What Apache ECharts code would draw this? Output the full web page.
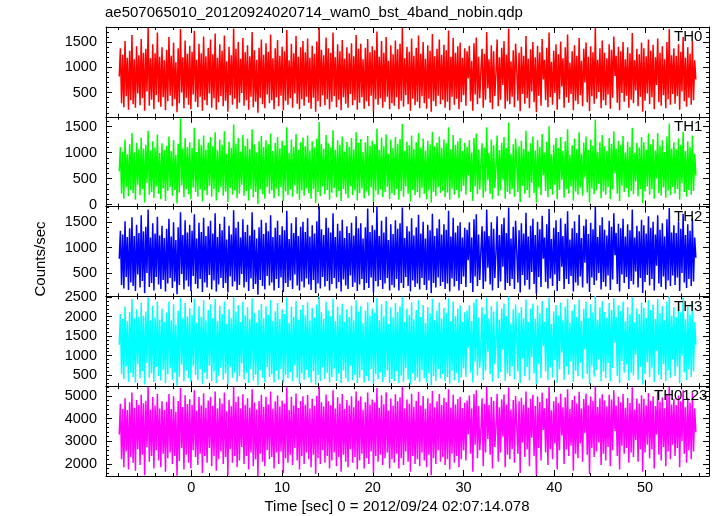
<!DOCTYPE html>
<html><head><meta charset="utf-8">
<script src="https://cdn.jsdelivr.net/npm/echarts@6/dist/echarts.min.js"></script>
<style>html,body{margin:0;padding:0;background:#fff}#c{width:717px;height:516px}</style>
</head><body><div id="c"></div>
<script>
const titleText = 'ae507065010_20120924020714_wam0_bst_4band_nobin.qdp';
const xName = 'Time [sec] 0 = 2012/09/24 02:07:14.078';
const yName = 'Counts/sec';
const bandNames = ['TH0', 'TH1', 'TH2', 'TH3', 'TH0123'];
const bandColors = ['#ff0000', '#00ff00', '#0000ff', '#00ffff', '#ff00ff'];
const tStart = -7.94, tEnd = 55.6;
const xRange = [-9.4, 57.05];
const xTicks = [0, 10, 20, 30, 40, 50];
const yRanges = [[20, 1800], [-40, 1690], [35, 1810], [215, 2520], [1465, 5430]];
const yTicks = [[500, 1000, 1500], [0, 500, 1000, 1500], [500, 1000, 1500], [500, 1000, 1500, 2000, 2500], [2000, 3000, 4000, 5000]];

const th0 = [
820,1380,290,1250,210,1520,430,1190,160,1330,350,1640,270,1160,200,1420,480,1240,250,1560,
390,1290,140,1370,520,1790,240,1180,360,1460,170,1280,450,1690,310,1210,220,1400,410,1140,
150,1350,330,1600,440,1230,230,1490,370,1100,110,1380,290,1760,500,1200,190,1530,400,1270,
260,1430,170,1310,460,1720,320,1150,210,1470,420,1280,140,1610,350,1220,250,1390,480,1550,
200,1260,390,1670,160,1190,310,1460,430,1330,230,1630,340,1120,120,1410,450,1240,260,1770,
380,1370,180,1500,300,1170,490,1580,240,1300,350,1440,160,1220,420,1700,210,1340,320,1150,
100,1390,400,1550,270,1250,190,1480,460,1310,290,1650,350,1180,170,1380,410,1540,230,1230,
440,1410,150,1320,340,1740,260,1140,390,1470,200,1280,480,1620,280,1210,170,1400,370,1520,
240,1300,420,1570,300,1190,180,1430,400,1270,120,1510,330,1790,220,1350,450,1240,250,1590,
370,1380,170,1290,320,1690,430,1200,210,1460,360,1320,150,1540,410,1170,280,1400,200,1280,
470,1480,250,1220,350,1640,160,1370,300,1470,410,1160,180,1390,330,1560,230,1300,440,1420,
130,1340,370,1710,260,1210,390,1520,200,1290,320,1600,420,1130,170,1440,290,1260,240,1530,
410,1360,170,1470,340,1780,220,1180,450,1410,270,1310,140,1570,380,1230,250,1390,320,1630,
190,1270,430,1500,290,1170,180,1440,380,1330,120,1660,330,1220,230,1370,440,1550,270,1250,
360,1450,200,1340,320,1730,150,1210,420,1580,260,1290,380,1420,170,1490,310,1190,450,1380,
240,1320,780,1430,330,1130,140,1480,460,1590,270,1210,390,940,1370,200,1270,360,1700,580,
1160,300,1440,170,1320,430,870,1550,230,1200,360,1390,650,1520,180,1250,330,1770,270,1120,
420,1340,210,1470,960,340,1290,130,1410,470,1230,280,1620,390,1170,190,1360,520,1500,310,
1200,110,1430,440,1300,240,1560,760,1150,350,1390,210,1690,410,1110,260,1330,490,1460,160,
1260,370,1510,620,1180,200,1400,410,1650,300,1090,470,1320,150,1440,340,1230,270,1580,450,
1130,230,1370,700,1490,310,1210,130,1420,430,1300,280,1780,380,1150,510,1380,190,1530,350,
1290,250,1180,460,1460,180,1350,400,1610,830,1230,300,1410,150,1320,490,1500,320,1160,440,
1400,200,1280,360,1680,290,1140,540,1370,230,1260,420,1490,120,1380,340,1220,480,1550,270,
1330,410,1450,170,1200,650,1570,310,1290,240,1420,450,1160,190,1500,370,1760,260,1240,470,
1380,280,1230,430,1460,160,1310,520,1600,330,1190,220,1400,400,1270,260,1520,350,1140,760
];
const th1 = [
640,1110,210,1020,110,1250,330,970,160,1160,280,1380,220,1000,90,1190,380,1060,180,1290,
300,1080,40,1150,420,1420,190,1040,240,1220,130,1100,350,1350,210,990,100,1180,310,1050,
70,1130,260,1310,340,1030,170,1240,280,960,20,1170,230,1660,370,1080,140,1280,300,1110,
200,1200,100,1090,330,1480,240,1010,150,1260,290,1140,60,1330,270,1060,180,1190,360,1300,
150,1120,300,1390,80,1040,230,1250,340,1150,170,1410,250,980,50,1210,320,1090,190,1540,
270,1170,120,1280,210,1020,380,1340,170,1130,260,1270,80,1070,300,1450,140,1160,240,1000,
10,1220,290,1320,200,1110,110,1240,340,1160,210,1370,270,1030,120,1190,310,1300,160,1080,
340,1230,70,1140,250,1490,180,990,290,1250,150,1110,370,1360,210,1050,90,1200,270,1290,
170,1120,310,1330,220,1040,110,1220,300,1100,30,1270,240,1590,160,1160,350,1070,200,1340,
280,1180,90,1100,230,1430,320,1050,140,1240,260,1150,70,1310,300,1020,200,1210,120,1110,
350,1280,180,1060,270,1390,80,1190,220,1260,310,1010,120,1200,250,1320,170,1130,330,1230,
50,1160,270,1460,190,1050,290,1290,140,1120,240,1350,340,980,100,1250,220,1090,180,1300,
300,1170,90,1260,260,1550,150,1030,350,1210,210,1140,60,1330,280,1070,180,1200,240,1380,
130,1100,320,1270,210,1040,100,1230,270,1160,40,1400,240,1120,160,1190,340,1310,220,1090,
260,1250,140,1180,230,1490,90,1060,310,1340,190,1150,280,1220,120,1280,250,1030,360,1190,
190,1110,560,1240,240,1000,70,1280,350,1370,200,1060,290,800,1180,130,1100,250,1490,470,
990,210,1250,100,1140,320,700,1330,170,1050,270,1190,480,1300,110,1090,240,1580,200,980,
300,1160,150,1270,780,240,1120,50,1230,360,1070,210,1420,280,1020,130,1180,420,1310,220,
1040,40,1240,330,1110,180,1360,560,1000,260,1210,140,1510,300,970,190,1150,380,1280,100,
1090,280,1300,480,1030,130,1220,300,1450,210,960,350,1140,80,1270,250,1070,190,1390,330,
980,170,1190,520,1310,230,1050,40,1250,310,1130,200,1640,270,1010,400,1200,120,1340,250,
1120,190,1030,340,1280,100,1170,290,1410,600,1080,210,1230,70,1150,360,1320,240,1000,320,
1210,140,1110,260,1480,200,990,440,1190,160,1100,300,1300,30,1200,250,1060,350,1370,190,
1160,290,1260,110,1040,500,1380,220,1130,170,1240,330,1010,130,1310,270,1560,180,1080,340,
1200,210,1070,300,1270,90,1150,410,1400,240,1030,150,1220,280,1110,190,1330,260,980,560
];
const th2 = [
780,1330,260,1260,190,1520,420,1210,160,1380,310,1600,240,1230,140,1450,470,1290,210,1640,
340,1320,100,1410,500,1750,220,1200,300,1480,150,1280,420,1610,270,1240,180,1430,360,1190,
130,1370,290,1570,400,1220,200,1500,330,1150,80,1400,260,1700,480,1250,170,1540,350,1300,
230,1450,140,1330,440,1660,280,1180,190,1490,380,1310,120,1590,310,1230,210,1420,460,1530,
170,1280,350,1680,130,1210,270,1470,400,1340,200,1610,300,1160,110,1430,430,1260,230,1740,
330,1390,160,1510,260,1200,480,1560,210,1310,320,1450,140,1240,390,1700,180,1350,280,1180,
70,1400,360,1550,240,1270,170,1490,440,1320,250,1640,310,1210,150,1390,380,1530,200,1250,
410,1420,120,1340,300,1730,220,1170,350,1480,180,1290,470,1600,250,1230,150,1410,330,1510,
210,1310,390,1580,270,1220,160,1440,360,1280,100,1520,290,1800,190,1360,420,1250,230,1590,
340,1390,150,1300,280,1680,400,1210,190,1470,320,1330,130,1550,370,1190,250,1420,180,1290,
450,1490,220,1240,310,1620,140,1380,270,1480,380,1180,160,1400,300,1770,200,1310,410,1440,
110,1350,340,1810,230,1230,360,1530,180,1300,290,1610,400,1150,150,1460,260,1270,210,1540,
380,1370,150,1480,300,1790,200,1190,420,1420,240,1320,130,1580,350,1240,220,1400,290,1650,
170,1280,400,1510,260,1180,160,1450,350,1340,100,1670,300,1230,210,1380,410,1560,240,1260,
320,1460,180,1350,290,1730,130,1220,390,1590,230,1300,340,1430,150,1500,280,1200,430,1390,
220,1350,750,1500,300,1200,120,1560,430,1660,240,1260,360,950,1420,180,1320,330,1750,600,
1230,270,1500,150,1370,400,880,1620,200,1250,330,1460,620,1590,160,1290,300,1790,240,1180,
380,1410,180,1530,940,310,1340,110,1480,460,1280,250,1690,360,1220,170,1430,520,1570,280,
1250,90,1510,420,1360,220,1630,780,1200,320,1460,190,1760,390,1170,240,1390,470,1540,140,
1310,340,1580,620,1230,180,1470,380,1720,280,1160,440,1380,130,1520,310,1290,250,1650,430,
1190,210,1430,700,1560,290,1270,120,1490,410,1360,260,1810,350,1210,500,1440,170,1600,320,
1350,230,1240,450,1530,160,1410,370,1680,850,1290,280,1470,130,1380,470,1570,300,1220,420,
1460,180,1340,340,1750,270,1200,530,1430,210,1320,400,1550,100,1440,320,1280,460,1620,250,
1390,380,1510,150,1260,640,1640,290,1350,220,1480,430,1220,170,1560,350,1780,240,1300,450,
1440,260,1290,410,1520,140,1370,500,1670,310,1250,200,1460,380,1330,240,1580,330,1200,800
];
const th3 = [
1280,2070,520,1940,400,2260,720,1880,330,2120,560,2450,450,1950,310,2190,780,2000,420,2360,
600,2020,260,2130,820,2500,430,1900,540,2280,320,1980,710,2390,480,1920,360,2200,640,1870,
290,2100,520,2380,680,1900,380,2320,570,1800,230,2150,460,2480,770,1950,340,2350,610,2010,
420,2220,320,2040,730,2460,500,1840,370,2270,650,2000,280,2420,560,1910,400,2170,740,2320,
350,1960,590,2450,300,1880,490,2280,690,2070,380,2390,540,1820,260,2190,710,1960,430,2510,
570,2120,330,2300,470,1860,800,2380,390,2030,560,2240,300,1930,650,2470,360,2100,510,1850,
240,2170,620,2330,430,1960,320,2270,710,2040,450,2430,520,1890,310,2140,610,2350,380,1940,
660,2190,290,2070,510,2490,420,1840,580,2260,340,1990,750,2400,430,1920,270,2180,550,2300,
380,2030,640,2370,440,1900,310,2220,600,1980,250,2310,500,2530,350,2110,700,1950,400,2380,
560,2150,310,2010,450,2460,670,1880,350,2260,540,2050,290,2330,620,1870,420,2190,330,1990,
740,2280,370,1910,500,2420,300,2130,430,2270,630,1830,310,2160,480,2370,350,2020,650,2210,
270,2100,530,2480,390,1910,570,2320,320,2010,450,2400,620,1810,290,2240,400,1980,350,2350,
600,2120,300,2270,490,2510,330,1860,680,2200,390,2040,260,2370,550,1930,360,2170,440,2420,
320,1990,630,2300,420,1840,310,2250,550,2080,240,2460,470,1910,350,2150,660,2360,410,1950,
530,2230,340,2100,450,2470,280,1890,610,2390,370,2010,560,2210,300,2290,440,1870,670,2110,
450,2160,1200,2290,560,1890,310,2360,840,2450,490,1980,690,1350,2240,370,2060,610,2490,1100,
1950,520,2270,330,2130,780,1300,2390,420,1920,580,2210,1150,2340,350,2010,550,2520,470,1830,
720,2190,390,2310,1420,590,2100,290,2250,920,1960,480,2440,700,1870,360,2200,960,2340,540,
1940,260,2290,790,2080,420,2410,1250,1870,590,2220,370,2500,700,1810,440,2140,880,2300,300,
2030,650,2360,1080,1910,380,2260,720,2460,510,1850,850,2150,330,2310,610,1990,470,2440,820,
1890,400,2200,1160,2380,530,1960,270,2320,740,2110,460,2530,640,1920,900,2240,340,2400,590,
2120,420,1970,810,2350,340,2180,680,2470,1330,2000,480,2290,300,2140,860,2390,560,1880,770,
2250,360,2060,560,2500,490,1850,1030,2210,380,2070,710,2360,260,2220,530,1970,830,2430,450,
2170,690,2310,320,1940,1120,2450,500,2090,390,2270,780,1900,350,2380,620,2540,430,2020,900,
2240,480,1990,720,2330,290,2110,1000,2480,570,1930,370,2260,650,2050,450,2390,590,1860,1280
];
const th0123 = [
3300,4650,2200,4420,1850,4900,2550,4380,1750,4720,2300,5150,2050,4480,1700,4820,2650,4600,1950,5050,
2400,4680,1500,4790,2750,5400,2100,4400,2350,4950,1800,4580,2600,5100,2150,4450,1850,4760,2450,4390,
1650,4740,2250,5080,2500,4420,2000,4990,2350,4300,1480,4780,2130,5350,2700,4510,1750,5030,2400,4640,
2050,4850,1800,4600,2600,5250,2300,4350,1950,4950,2450,4590,1600,5120,2350,4480,2050,4800,2700,4960,
1900,4570,2350,5200,1700,4450,2200,4900,2550,4660,2000,5150,2300,4320,1500,4830,2650,4540,2050,5420,
2350,4730,1850,4980,2150,4440,2750,5070,2000,4610,2350,4900,1750,4490,2500,5300,1900,4710,2200,4400,
1450,4780,2450,5050,2100,4520,1900,4960,2600,4620,2200,5200,2300,4430,1800,4770,2500,5020,2000,4530,
2550,4800,1600,4660,2250,5380,2050,4380,2400,4960,1950,4580,2700,5110,2150,4470,1750,4780,2350,4990,
2000,4610,2500,5040,2200,4440,1850,4880,2400,4560,1550,5010,2250,5420,2000,4720,2600,4530,2050,5060,
2350,4770,1800,4590,2150,5250,2500,4450,1900,4940,2300,4660,1650,5080,2400,4420,2100,4820,1850,4580,
2650,4990,2050,4500,2300,5200,1750,4790,2150,4980,2450,4390,1800,4720,2250,5150,2000,4610,2550,4840,
1600,4720,2350,5350,2100,4480,2400,5030,1950,4630,2250,5160,2500,4360,1800,4890,2200,4570,2050,5070,
2450,4760,1800,4940,2250,5400,1950,4440,2550,4840,2100,4650,1650,5100,2350,4510,2000,4790,2200,5180,
1900,4580,2500,5000,2150,4430,1850,4900,2400,4680,1500,5220,2250,4500,2000,4760,2600,5080,2100,4600,
2300,4920,1950,4720,2200,5300,1750,4490,2450,5050,2050,4620,2350,4860,1850,4960,2200,4470,2600,4700,
2150,4800,3300,5020,2450,4450,1650,5080,2850,5250,2250,4550,2600,3500,4900,1900,4650,2500,5400,3100,
4600,2400,4950,1800,4780,2750,3600,5100,2100,4500,2500,4850,3200,5060,1850,4620,2400,5380,2200,4400,
2650,4820,2050,5000,3700,2450,4760,1600,4920,2950,4610,2300,5200,2650,4480,1900,4880,3150,5050,2350,
4550,1500,4980,2700,4730,2150,5150,3500,4460,2500,4890,1950,5400,2650,4370,2200,4770,2900,4960,1750,
4680,2600,5100,3250,4500,2000,4940,2650,5300,2350,4420,2800,4820,1700,5010,2450,4660,2250,5180,2900,
4440,2100,4860,3350,5100,2400,4590,1550,4970,2700,4790,2300,5420,2550,4510,2950,4900,1950,5070,2450,
4800,2150,4530,2750,5050,1900,4840,2600,5250,3450,4580,2350,4960,1750,4720,2800,5090,2450,4480,2700,
4910,2050,4690,2500,5380,2300,4400,3050,4890,2100,4670,2650,5030,1650,4870,2500,4590,2850,5130,2250,
4780,2650,4990,1800,4550,3300,5200,2400,4740,2150,4940,2750,4460,1900,5060,2550,5400,2200,4620,2850,
4880,2350,4600,2700,5020,1850,4760,3000,5260,2450,4500,2050,4920,2600,4700,2200,5130,2550,4450,3400
];

const bandValues = [th0, th1, th2, th3, th0123];
const FONT = 'Liberation Sans, Arial, Helvetica, sans-serif';
const chart = echarts.init(document.getElementById('c'), null, {renderer: 'canvas'});

const gTop = 27, gH = 89.8, gLeft = 106, gWidth = 603;
const labelLeft = [674, 674, 674, 674, 654];
const ySplit = [4, 4, 4, 4, 4];
const grids = [], xAxes = [], yAxes = [], series = [], graphics = [];
const plain = v => String(v);

bandValues.forEach((vals, i) => {
  grids.push({left: gLeft, width: gWidth, top: gTop + i * gH, height: gH});
  const axLine = {show: true, onZero: false, lineStyle: {color: '#000', width: 1}};
  const xBase = {
    type: 'value', gridIndex: i, min: xRange[0], max: xRange[1], splitNumber: 5,
    axisLine: axLine, splitLine: {show: false},
    axisTick: {show: true, inside: true, length: 6, customValues: xTicks, lineStyle: {color: '#000'}},
    minorTick: {show: true, splitNumber: 5, length: 3, lineStyle: {color: '#000'}}
  };
  xAxes.push(Object.assign({}, xBase, {position: 'bottom',
    axisLabel: {show: i === 4, customValues: xTicks, formatter: plain, color: '#000', fontSize: 14.5, fontFamily: FONT, margin: 4}}));
  xAxes.push(Object.assign({}, xBase, {position: 'top', axisLabel: {show: false}}));
  const yBase = {
    type: 'value', gridIndex: i, min: yRanges[i][0], max: yRanges[i][1], splitNumber: ySplit[i],
    axisLine: axLine, splitLine: {show: false},
    axisTick: {show: true, inside: true, length: 6, customValues: yTicks[i], lineStyle: {color: '#000'}},
    minorTick: {show: true, splitNumber: 5, length: 3, lineStyle: {color: '#000'}}
  };
  yAxes.push(Object.assign({}, yBase, {position: 'left',
    axisLabel: {show: true, customValues: yTicks[i], formatter: plain, color: '#000', fontSize: 14.5, fontFamily: FONT, margin: 9}}));
  yAxes.push(Object.assign({}, yBase, {position: 'right', axisLabel: {show: false}}));

  const step = (tEnd - tStart) / (vals.length - 1);
  series.push({
    type: 'line', xAxisIndex: 2 * i, yAxisIndex: 2 * i,
    data: vals.map((v, k) => [tStart + k * step, v]),
    showSymbol: false, symbol: 'none', clip: true, silent: true,
    lineStyle: {color: bandColors[i], width: 1.5},
    itemStyle: {color: bandColors[i]}
  });
  graphics.push({
    type: 'text', left: labelLeft[i], top: gTop + i * gH + 2.5, z: 100,
    style: {text: bandNames[i], fill: '#000', font: '15px ' + FONT}
  });
});

graphics.push({type: 'text', x: 41, y: 259, rotation: Math.PI / 2, z: 100,
  style: {text: yName, fill: '#000', font: '15px ' + FONT, textAlign: 'center', textVerticalAlign: 'middle'}});
graphics.push({type: 'text', x: 397, y: 507, z: 100,
  style: {text: xName, fill: '#000', font: '15px ' + FONT, textAlign: 'center', textVerticalAlign: 'middle'}});

chart.setOption({
  animation: false,
  backgroundColor: '#fff',
  title: {text: titleText, left: 105, top: 5, padding: 0,
    textStyle: {fontSize: 15, fontWeight: 'normal', color: '#000', fontFamily: FONT}},
  grid: grids, xAxis: xAxes, yAxis: yAxes, series: series, graphic: graphics
});
</script></body></html>
